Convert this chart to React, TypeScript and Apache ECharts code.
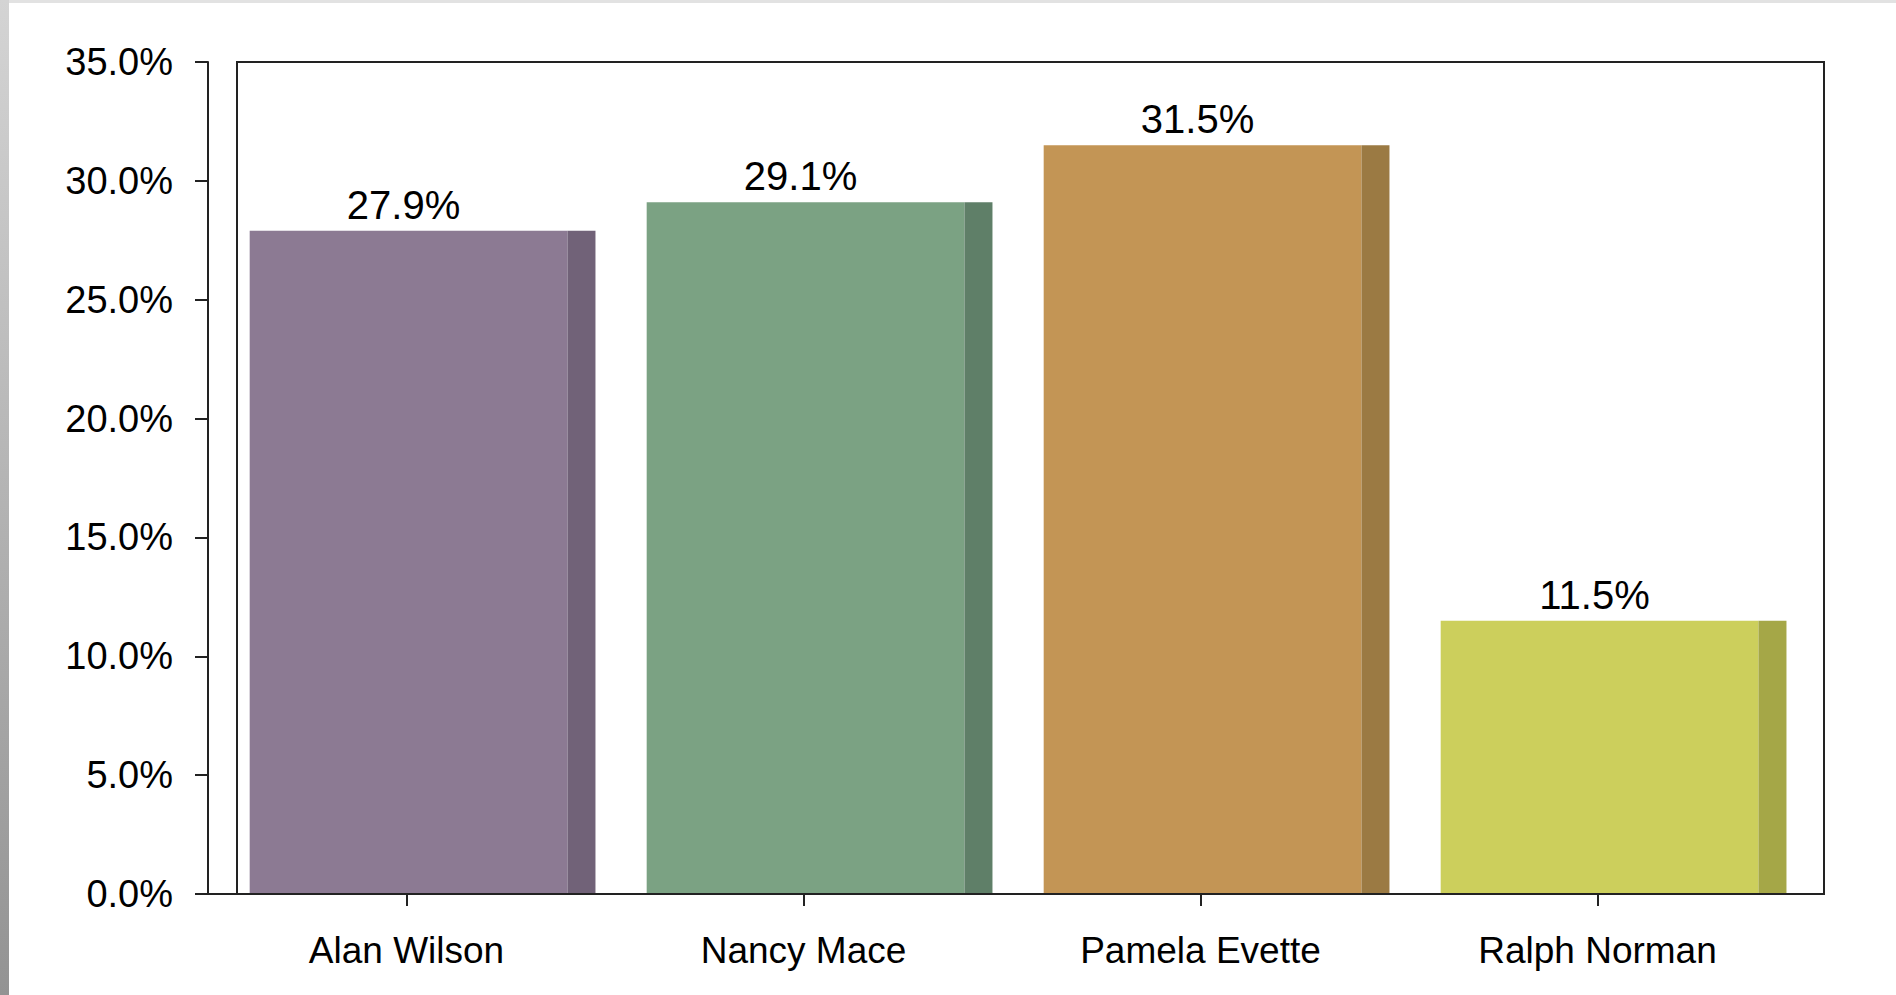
import React, { useEffect, useRef } from "react";
import * as echarts from "echarts";

const categories = ["Alan Wilson", "Nancy Mace", "Pamela Evette", "Ralph Norman"];
const shares = [27.9, 29.1, 31.5, 11.5];
const faceColors = ["#8C7A93", "#7BA283", "#C39555", "#CCCF5C"];
const sideColors = ["#716278", "#5F7F68", "#9B7A43", "#A5A747"];
const yMin = 0;
const yMax = 35;
const yStep = 5;

const FONT = "'Liberation Sans', Arial, Helvetica, sans-serif";

export default function App() {
  const ref = useRef<HTMLDivElement>(null);
  useEffect(() => {
    if (!ref.current) return;
    const chart = echarts.init(ref.current, null, { renderer: "svg" });
    const gridLeft = 208;
    const gridTop = 62;
    const gridW = 1588;
    const gridH = 832;
    chart.setOption({
      animation: false,
      backgroundColor: "#ffffff",
      grid: { left: gridLeft, top: gridTop, width: gridW, height: gridH, containLabel: false },
      xAxis: {
        type: "category",
        data: categories,
        axisLine: { show: true, lineStyle: { color: "#222", width: 2 } },
        axisTick: { show: true, alignWithLabel: true, length: 12, lineStyle: { color: "#222", width: 2 } },
        axisLabel: { color: "#000", fontSize: 37, fontFamily: FONT, margin: 38 },
        splitLine: { show: false },
      },
      yAxis: {
        type: "value",
        min: yMin,
        max: yMax,
        interval: yStep,
        axisLine: { show: true, lineStyle: { color: "#222", width: 2 } },
        axisTick: { show: true, length: 13, lineStyle: { color: "#222", width: 2 } },
        axisLabel: {
          color: "#000",
          fontSize: 38,
          fontFamily: FONT,
          margin: 35,
          padding: [9, 0, 0, 0],
          formatter: (v: number) => v.toFixed(1) + "%",
        },
        splitLine: { show: false },
      },
      graphic: [
        {
          type: "rect",
          shape: { x: 0, y: 0, width: 1896, height: 3 },
          style: { fill: "#e2e2e2" },
          silent: true,
        },
        {
          type: "rect",
          shape: { x: 0, y: 0, width: 9, height: 995 },
          style: {
            fill: new echarts.graphic.LinearGradient(0, 0, 0, 1, [
              { offset: 0, color: "#d4d4d4" },
              { offset: 1, color: "#939393" },
            ]),
          },
          silent: true,
        },
        {
          type: "rect",
          shape: { x: 237, y: 62, width: 1587, height: 832 },
          style: { fill: "none", stroke: "#222", lineWidth: 2 },
          silent: true,
          z: 10,
        },
      ],
      series: [
        {
          type: "custom",
          data: shares.map((v, i) => [i, v]),
          renderItem: (params: any, api: any) => {
            const idx = params.dataIndex;
            const top = api.coord([api.value(0), api.value(1)]);
            const base = api.coord([api.value(0), 0]);
            const band = api.size([1, 0])[0];
            const left = top[0] - band * 0.395;
            const right = top[0] + band * 0.476;
            const strip = band * 0.0705;
            return {
              type: "group",
              children: [
                {
                  type: "rect",
                  shape: { x: left, y: top[1], width: right - left - strip, height: base[1] - top[1] },
                  style: { fill: faceColors[idx] },
                },
                {
                  type: "rect",
                  shape: { x: right - strip, y: top[1], width: strip, height: base[1] - top[1] },
                  style: { fill: sideColors[idx] },
                },
                {
                  type: "text",
                  x: top[0] - 3,
                  y: top[1] - 26,
                  style: {
                    text: api.value(1).toFixed(1) + "%",
                    fill: "#000",
                    font: `40px ${FONT}`,
                    textAlign: "center",
                    textVerticalAlign: "middle",
                  },
                },
              ],
            };
          },
        },
      ],
    });
    return () => chart.dispose();
  }, []);
  return <div ref={ref} style={{ position: "fixed", left: 0, top: 0, width: 1896, height: 995 }} />;
}
